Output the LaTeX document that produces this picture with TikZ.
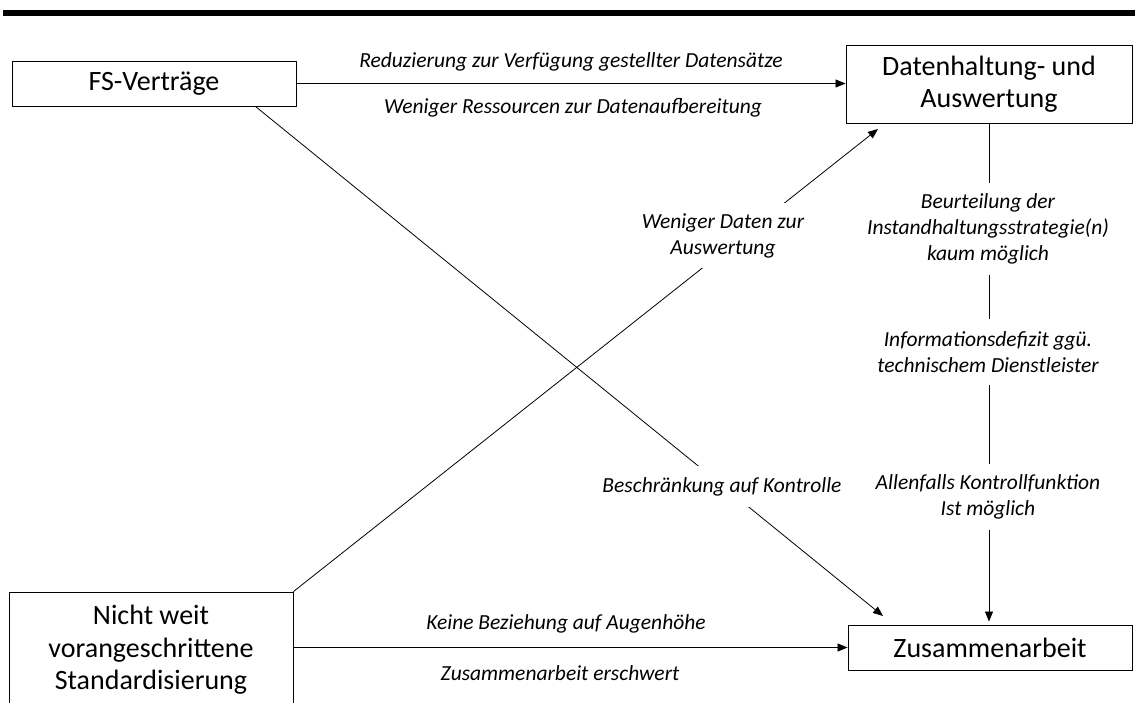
\documentclass[tikz,border=0pt]{standalone}
\usepackage{fontspec}
\setmainfont{Carlito}
\usetikzlibrary{arrows.meta,calc}

\begin{document}
\begin{tikzpicture}[x=1pt,y=-1pt,
  box/.style={draw=black,line width=0.9pt,fill=white,align=center,inner sep=0pt,
    font=\fontsize{28}{32.5}\selectfont},
  lbl/.style={fill=white,align=center,inner sep=0pt,
    font=\fontsize{21.5}{26}\selectfont\itshape},
  txt/.style={align=center,inner sep=0pt,font=\fontsize{21.5}{26}\selectfont\itshape},
  arr/.style={line width=0.8pt,-{Triangle[length=10pt,width=8pt]}}
]
\useasboundingbox (0,0) rectangle (1135,702);

% heading rule
\fill[black] (3,10) rectangle (1135,15.5);

% boxes
\node[box,minimum width=284,minimum height=45] (fs) at (154,83.5) {FS-Verträge};
\node[box,minimum width=286,minimum height=78] (dh) at (989,84)
  {Datenhaltung- und\\Auswertung};
\node[box,minimum width=284,minimum height=116] (nw) at (151,650)
  {Nicht weit\\vorangeschrittene\\Standardisierung};
\node[box,minimum width=284,minimum height=45] (za) at (990,647.5) {Zusammenarbeit};

% free ends of the diagonal and vertical connectors
\coordinate (fsout) at ($(fs.south east)+(-41,0)$);
\coordinate (zatipA) at (883,616);
\coordinate (dhtip) at (878,129);
\coordinate (zatipB) at ($(za.north)+(-1,-3)$);

% FS-Verträge -> Datenhaltung
\draw[arr] (fs.east) -- (fs.east -| dh.west);
\node[txt] (t1) at (571,62) {Reduzierung zur Verfügung gestellter Datensätze};
\node[txt] (t2) at (573,108) {Weniger Ressourcen zur Datenaufbereitung};

% FS-Verträge -> Zusammenarbeit
\draw[arr] (fsout) -- (zatipA);
\node[lbl,minimum height=41] (t3) at (722,486.5) {Beschränkung auf Kontrolle};

% Standardisierung -> Datenhaltung
\draw[arr] (nw.north east) -- (dhtip);
\node[lbl,minimum height=65] (t4) at (723,235.5) {Weniger Daten zur\\Auswertung};

% Standardisierung -> Zusammenarbeit
\draw[arr] (nw.east |- za.west) -- (za.west);
\node[txt] (t5) at (566,624) {Keine Beziehung auf Augenhöhe};
\node[txt] (t6) at (560,673) {Zusammenarbeit erschwert};

% Datenhaltung -> Zusammenarbeit
\draw[arr] (dh.south -| zatipB) -- (zatipB);
\node[lbl,minimum height=92,minimum width=200] (t7) at (988,229)
  {Beurteilung der\\Instandhaltungsstrategie(n)\\kaum möglich};
\node[lbl,minimum height=66,minimum width=200] (t8) at (988,352)
  {Informationsdefizit ggü.\\technischem Dienstleister};
\node[lbl,minimum height=66,minimum width=200] (t9) at (988,497)
  {Allenfalls Kontrollfunktion\\Ist möglich};
\end{tikzpicture}
\end{document}
